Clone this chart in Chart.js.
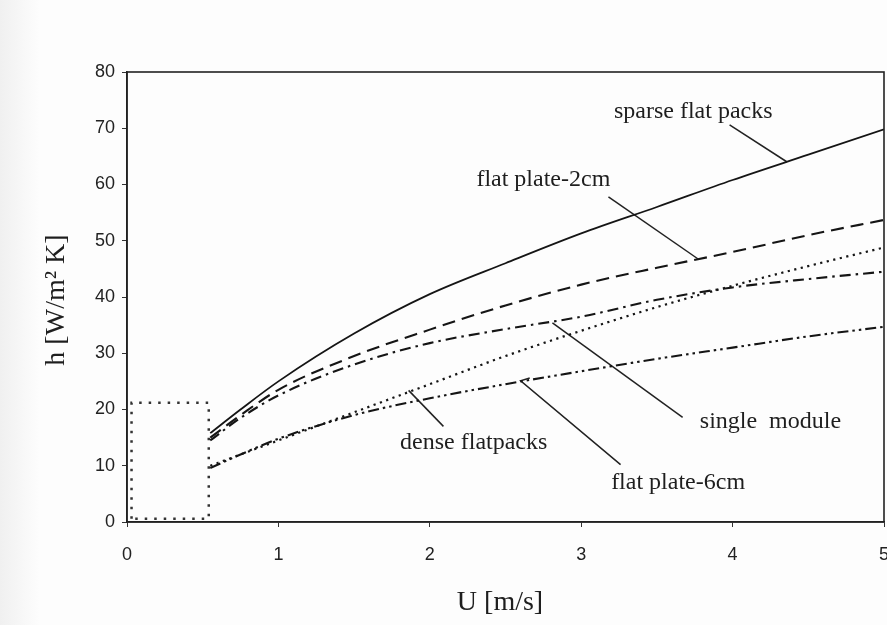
<!DOCTYPE html>
<html>
<head>
<meta charset="utf-8">
<script src="https://cdn.jsdelivr.net/npm/chart.js@4.4.0/dist/chart.umd.min.js"></script>
<style>
  html, body { margin: 0; padding: 0; background: #fff; }
  #wrap { width: 887px; height: 625px; }
</style>
</head>
<body>
<div id="wrap"><canvas id="myChart" width="887" height="625"></canvas></div>
<script>
// velocity points U [m/s]
const uVals = [0.55, 0.75, 1, 1.5, 2, 2.5, 3, 3.5, 4, 4.5, 5];

// h [W/m2 K]
const sparseFlatPacks = [15.8, 20, 25, 33.5, 40.5, 46, 51.3, 56, 60.8, 65.3, 69.8];
const flatPlate2cm    = [15, 19, 23.5, 29.5, 34.2, 38.5, 42.2, 45.2, 48, 51, 53.7];
const singleModule    = [14.5, 18.5, 22.5, 28, 31.8, 34.3, 36.5, 39.5, 41.7, 43.2, 44.5];
const denseFlatpacks  = [10, 12, 14.5, 19.5, 24.5, 29.5, 34, 38.2, 42, 45.5, 48.8];
const flatPlate6cm    = [9.6, 12, 14.8, 19, 22, 24.5, 26.8, 29, 31, 33, 34.7];

// dotted box at low velocity
const boxU = [0.03, 0.03, 0.54, 0.54, 0.03];
const boxH = [0.6, 21.2, 21.2, 0.6, 0.6];

const xTicks = [0, 1, 2, 3, 4, 5];
const yTicks = [0, 10, 20, 30, 40, 50, 60, 70, 80];

// curve labels, with leader lines (data units)
const labels = [
  { text: 'sparse flat packs', at: [3.74, 73.0], leader: [[3.98, 70.6], [4.36, 64]] },
  { text: 'flat plate-2cm',    at: [2.75, 60.9], leader: [[3.18, 57.8], [3.77, 46.8]] },
  { text: 'single  module',    at: [4.25, 17.8], leader: [[2.81, 35.4], [3.67, 18.6]] },
  { text: 'dense flatpacks',   at: [2.29, 14.1], leader: [[1.86, 23.4], [2.09, 17.0]] },
  { text: 'flat plate-6cm',    at: [3.64, 6.9],  leader: [[2.66, 25.6], [2.60, 25.1], [3.26, 10.2]] }
];

const toPts = (xs, ys) => xs.map((x, i) => ({ x: x, y: ys[i] }));

function curve(ys, dash, width) {
  return {
    data: toPts(uVals, ys),
    borderColor: '#151515',
    borderWidth: width,
    borderDash: dash,
    pointRadius: 0,
    fill: false,
    cubicInterpolationMode: 'monotone'
  };
}

const datasets = [
  curve(sparseFlatPacks, [], 1.8),
  curve(flatPlate2cm, [13, 7], 2.1),
  curve(singleModule, [11, 5, 2.5, 5], 2.1),
  curve(denseFlatpacks, [2.2, 4.5], 2.2),
  curve(flatPlate6cm, [11, 4, 2.5, 4, 2.5, 4], 2.1),
  {
    data: toPts(boxU, boxH),
    borderColor: '#333',
    borderWidth: 2.5,
    borderDash: [2.5, 7],
    pointRadius: 0,
    fill: false,
    tension: 0
  }
];

labels.forEach(l => {
  datasets.push({
    data: l.leader.map(p => ({ x: p[0], y: p[1] })),
    borderColor: '#222',
    borderWidth: 1.5,
    pointRadius: 0,
    fill: false,
    tension: 0
  });
});

// paper background, frame, axis titles and curve labels
const paper = {
  id: 'paper',
  beforeDraw: (chart) => {
    const { ctx } = chart;
    ctx.save();
    ctx.fillStyle = '#fdfdfd';
    ctx.fillRect(0, 0, chart.width, chart.height);
    const g = ctx.createLinearGradient(0, 0, 40, 0);
    g.addColorStop(0, '#f0f0f0');
    g.addColorStop(1, '#fdfdfd');
    ctx.fillStyle = g;
    ctx.fillRect(0, 0, 40, chart.height);
    ctx.restore();
  },
  afterDraw: (chart) => {
    const { ctx, chartArea: a } = chart;
    const xs = chart.scales.x, ys = chart.scales.y;
    ctx.save();
    ctx.strokeStyle = '#222';
    ctx.lineWidth = 1.6;
    ctx.strokeRect(a.left, a.top, a.right - a.left, a.bottom - a.top);

    ctx.fillStyle = '#1e1e1e';
    ctx.font = '24px "Liberation Serif", "Times New Roman", serif';
    ctx.textAlign = 'center';
    ctx.textBaseline = 'middle';
    labels.forEach(l => {
      ctx.fillText(l.text, xs.getPixelForValue(l.at[0]), ys.getPixelForValue(l.at[1]));
    });

    ctx.font = '28px "Liberation Serif", "Times New Roman", serif';
    ctx.fillText('U [m/s]', 500, 603);
    ctx.translate(57, 300);
    ctx.rotate(-Math.PI / 2);
    ctx.fillText('h [W/m\u00B2 K]', 0, 0);
    ctx.restore();
  }
};

const config = {
  type: 'line',
  data: { datasets: datasets },
  plugins: [paper],
  options: {
    responsive: false,
    animation: false,
    layout: { padding: { top: 72, right: 3, left: 0, bottom: 0 } },
    plugins: {
      legend: { display: false },
      tooltip: { enabled: false }
    },
    scales: {
      x: {
        type: 'linear',
        min: 0,
        max: 5,
        afterBuildTicks: (s) => { s.ticks = xTicks.map(v => ({ value: v })); },
        afterFit: (s) => { s.height = 103; s.paddingLeft = 0; s.paddingRight = 0; },
        grid: { drawOnChartArea: false, drawTicks: true, tickLength: 5, color: '#333' },
        border: { display: true, color: '#222', width: 1.6 },
        ticks: { color: '#222', padding: 17, font: { family: '"Liberation Sans", Arial, sans-serif', size: 18 } }
      },
      y: {
        type: 'linear',
        min: 0,
        max: 80,
        afterBuildTicks: (s) => { s.ticks = yTicks.map(v => ({ value: v })); },
        afterFit: (s) => { s.width = 127; s.paddingTop = 0; s.paddingBottom = 0; },
        grid: { drawOnChartArea: false, drawTicks: true, tickLength: 5, color: '#333' },
        border: { display: true, color: '#222', width: 1.6 },
        ticks: { color: '#222', padding: 7, font: { family: '"Liberation Sans", Arial, sans-serif', size: 18 } }
      }
    }
  }
};

let myChart = new Chart(document.getElementById('myChart'), config);
</script>
</body>
</html>
